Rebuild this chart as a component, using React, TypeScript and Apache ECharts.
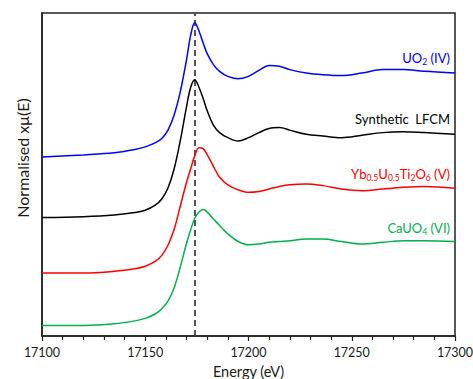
import React, { useEffect, useRef } from "react";
import * as echarts from "echarts";

// Energy grid (eV)
const energy = [
  17100, 17120, 17135, 17145, 17150, 17155, 17158, 17161, 17164, 17167, 17170,
  17172, 17174, 17176, 17178, 17180, 17183, 17186, 17190, 17195, 17200, 17205,
  17210, 17215, 17220, 17228, 17236, 17245, 17255, 17265, 17275, 17285, 17300,
];

// Normalised spectra (edge step = 1)
const uo2 = [
  0.0, 0.025, 0.05, 0.09, 0.12, 0.17, 0.22, 0.32, 0.5, 0.78, 1.16,
  1.45, 1.6, 1.5, 1.36, 1.23, 1.1, 1.02, 0.96, 0.93, 0.96, 1.03,
  1.09, 1.08, 1.04, 1.0, 0.98, 0.97, 1.0, 1.04, 1.04, 1.02, 1.0,
];
const lfcm = [
  0.0, 0.01, 0.03, 0.06, 0.085, 0.15, 0.22, 0.35, 0.58, 0.92, 1.32,
  1.55, 1.64, 1.55, 1.42, 1.27, 1.1, 1.01, 0.95, 0.91, 0.95, 1.01,
  1.06, 1.07, 1.04, 0.99, 0.97, 0.95, 0.98, 1.01, 1.02, 1.01, 0.99,
];
const ybuti = [
  0.0, 0.0, 0.02, 0.05, 0.08, 0.14, 0.21, 0.33, 0.52, 0.8, 1.08,
  1.24, 1.4, 1.49, 1.48, 1.41, 1.27, 1.14, 1.05, 0.99, 0.96, 0.97,
  1.0, 1.03, 1.05, 1.06, 1.04, 1.0, 0.98, 1.0, 1.02, 1.03, 1.01,
];
const cauo4 = [
  0.0, 0.0, 0.02, 0.055, 0.085, 0.14, 0.2, 0.29, 0.45, 0.7, 0.98,
  1.14, 1.28, 1.35, 1.38, 1.35, 1.27, 1.19, 1.09, 1.0, 0.96, 0.97,
  0.99, 1.0, 1.01, 1.03, 1.03, 1.0, 0.97, 0.99, 1.01, 1.01, 1.0,
];

// Vertical stacking offsets
const offsets = [2.131, 1.411, 0.75, 0.125];
const spectra = [uo2, lfcm, ybuti, cauo4];
const colors = ["#0000ff", "#000000", "#ff0000", "#00b050"];
const seriesNames = ["UO2 (IV)", "Synthetic LFCM", "Yb0.5U0.5Ti2O6 (V)", "CaUO4 (VI)"];
const labelTexts = [
  "{m|UO}{s|2}{m| (IV)}",
  "{m|Synthetic  LFCM}",
  "{m|Yb}{s|0.5}{m|U}{s|0.5}{m|Ti}{s|2}{m|O}{s|6}{m| (V)}",
  "{m|CaUO}{s|4}{m| (VI)}",
];
const labelY = [58, 119, 174, 228];

const edgeEnergy = 17174;
const xMin = 17100;
const xMax = 17300;
const xInterval = 50;
const yMax = 3.845;

const FONT = "Lato, 'Noto Sans', sans-serif";

export default function App() {
  const ref = useRef<HTMLDivElement>(null);
  useEffect(() => {
    if (!ref.current) return;
    const chart = echarts.init(ref.current, undefined, { renderer: "svg" });
    const series: any[] = spectra.map((s, i) => ({
      name: seriesNames[i],
      type: "line",
      data: energy.map((e, j) => [e, s[j] + offsets[i]]),
      smooth: 0.35,
      showSymbol: false,
      lineStyle: { color: colors[i], width: 1.5 },
      itemStyle: { color: colors[i] },
      z: 3,
    }));
    series[0].markLine = {
      silent: true,
      symbol: "none",
      label: { show: false },
      lineStyle: { color: "#444", width: 1.8, type: [6, 4] },
      data: [{ xAxis: edgeEnergy }],
      z: 2,
    };
    const rich = {
      m: { fontSize: 13, fontFamily: FONT, lineHeight: 16 },
      s: { fontSize: 8.5, fontFamily: FONT, lineHeight: 6, verticalAlign: "bottom" },
    };
    chart.setOption({
      animation: false,
      backgroundColor: "#ffffff",
      grid: {
        left: 42,
        right: 18,
        top: 13,
        bottom: 43,
        show: true,
        borderColor: "#222",
        borderWidth: 1.5,
        containLabel: false,
        outerBoundsMode: "none",
      },
      xAxis: {
        type: "value",
        min: xMin,
        max: xMax,
        interval: xInterval,
        name: "Energy (eV)",
        nameLocation: "middle",
        nameGap: 23,
        nameTextStyle: { fontFamily: FONT, fontSize: 14.5, color: "#1a1a1a" },
        axisLine: { show: true, lineStyle: { color: "#222", width: 1.5 } },
        axisTick: { show: true, inside: false, length: 5, lineStyle: { color: "#222", width: 1.2 } },
        minorTick: { show: true, splitNumber: 5, length: 4, lineStyle: { color: "#222", width: 1.2 } },
        axisLabel: {
          fontFamily: FONT,
          fontSize: 12.5,
          color: "#1a1a1a",
          margin: 10,
          formatter: (v: number) => String(v),
        },
        splitLine: { show: false },
      },
      yAxis: {
        type: "value",
        min: 0,
        max: yMax,
        axisLine: { show: true, lineStyle: { color: "#222", width: 1.5 } },
        axisTick: { show: false },
        axisLabel: { show: false },
        splitLine: { show: false },
      },
      graphic: [
        {
          type: "text",
          x: 22,
          y: 158,
          rotation: Math.PI / 2,
          style: {
            text: "Normalised xμ(E)",
            fontFamily: FONT,
            fontSize: 16,
            fill: "#1a1a1a",
            align: "center",
            verticalAlign: "middle",
          },
        },
        ...labelTexts.map((t, i) => ({
          type: "text",
          x: 450,
          y: labelY[i],
          style: {
            text: t,
            rich,
            fill: colors[i],
            align: "right",
            verticalAlign: "middle",
          },
        })),
      ],
      series,
    });
    return () => chart.dispose();
  }, []);
  return (
    <div
      ref={ref}
      style={{ position: "absolute", left: 0, top: 0, width: 473, height: 379 }}
    />
  );
}
